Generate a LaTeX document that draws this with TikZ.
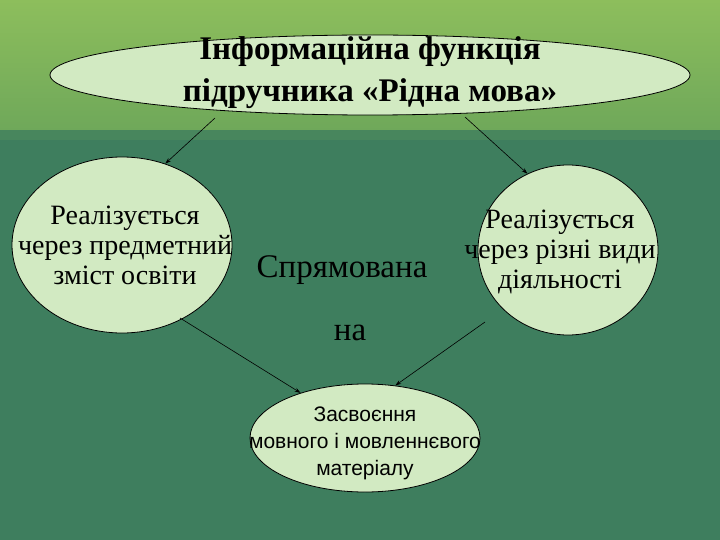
\documentclass[tikz,border=0pt]{standalone}
\usepackage{fontspec}
\setmainfont{Liberation Serif}
\newfontfamily\sansf{Liberation Sans}
\usetikzlibrary{shapes.geometric,arrows.meta}
\definecolor{topg}{HTML}{8DBE5C}
\definecolor{topg2}{HTML}{6FA85A}
\definecolor{botg}{HTML}{3E7E5E}
\definecolor{fillg}{HTML}{D2EAC2}
\tikzset{
  oval/.style={ellipse,draw=black,line width=0.8pt,fill=fillg,align=center,inner sep=0pt},
  conn/.style={-{Stealth[length=6pt,width=4pt]},line width=0.6pt,black},
  lbl/.style={align=center,font=\fontsize{28}{30}\selectfont}
}
\begin{document}
\begin{tikzpicture}[x=1pt,y=-1pt]
\useasboundingbox (0,0) rectangle (720,540);
\fill[botg] (0,0) rectangle (720,540);
\shade[top color=topg,bottom color=topg2] (0,0) rectangle (720,130);
\fill[botg!80!topg2] (0,130) rectangle (720,140);
\node[oval,minimum width=640pt,minimum height=80pt] (top) at (370,75) {};
\node[align=center,font=\bfseries\fontsize{33}{42}\selectfont] (toptxt) at (370,73) {Інформаційна функція\\підручника «Рідна мова»};
\node[oval,minimum width=220pt,minimum height=176pt] (left) at (122,245) {};
\node[lbl] (lefttxt) at (125,245) {Реалізується\\через предметний\\зміст освіти};
\node[oval,minimum width=180pt,minimum height=170pt] (right) at (568,250) {};
\node[lbl] (righttxt) at (560,252) {Реалізується\\через різні види\\діяльності};
\node[oval,minimum width=230pt,minimum height=108pt] (bot) at (365,438) {};
\node[align=center,font=\sansf\fontsize{21}{27}\selectfont] (bottxt) at (365,443) {Засвоєння\\мовного і мовленнєвого\\матеріалу};
\node[lbl,font=\fontsize{33}{35}\selectfont] (spr) at (342,270) {Спрямована};
\node[lbl,font=\fontsize{33}{35}\selectfont] (na) at (350,333) {на};
\coordinate (a1) at (215,118);
\coordinate (a2) at (465,117);
\coordinate (b1) at (180,318);
\coordinate (b2) at (485,322);
\draw[conn] (a1) -- (left.62);
\draw[conn] (a2) -- (right.118);
\draw[conn] (b1) -- (bot.145);
\draw[conn] (b2) -- (bot.60);
\end{tikzpicture}
\end{document}
